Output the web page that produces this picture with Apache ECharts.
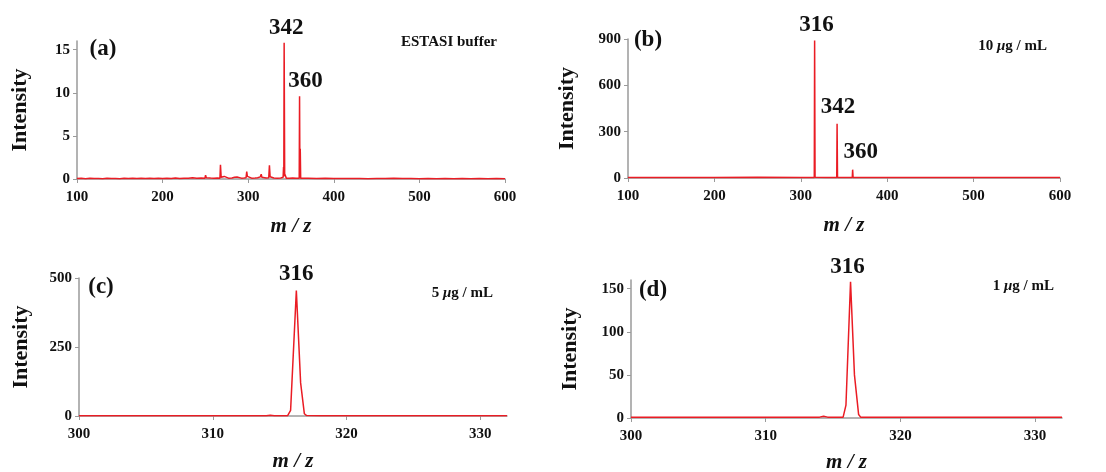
<!DOCTYPE html>
<html>
<head>
<meta charset="utf-8">
<script src="https://cdn.jsdelivr.net/npm/echarts@6/dist/echarts.min.js"></script>
<style>html,body{margin:0;padding:0;background:#fff}#c{width:1106px;height:472px}</style>
</head>
<body>
<div id="c"></div>
<script>
// ---- data (m/z, intensity) ----
var specA = [
[100,0.05],[105,0.08],[110,0.04],[115,0.09],[120,0.05],[125,0.07],[130,0.04],[135,0.1],[140,0.05],[145,0.06],
[150,0.04],[155,0.08],[160,0.05],[165,0.1],[170,0.05],[175,0.09],[180,0.05],[185,0.08],[190,0.06],[195,0.1],
[200,0.05],[205,0.08],[210,0.06],[215,0.12],[220,0.07],[225,0.1],[230,0.08],[235,0.15],[240,0.09],[245,0.12],
[249.5,0.1],[250.2,0.45],[251,0.15],[253,0.1],[256,0.12],[260,0.1],[264,0.12],
[267,0.1],[267.6,1.65],[268.4,0.2],[270,0.15],[272,0.3],[273,0.12],[277,0.1],[281,0.12],
[284,0.2],[285.5,0.28],[287,0.22],[289,0.15],[292,0.1],[295,0.12],
[297.5,0.15],[298.3,0.85],[299,0.3],[300,0.45],[301,0.15],[304,0.1],[308,0.12],[311,0.15],[313,0.3],[314.2,0.25],
[315.2,0.55],[316,0.2],[318,0.15],[321,0.12],
[324,0.15],[324.8,1.6],[325.6,0.25],[327,0.2],[330,0.12],[334,0.1],[338,0.12],
[340.8,0.2],[341.3,1.4],[341.6,0.3],[342,15.8],[342.6,0.6],[343.5,0.5],[344.5,0.1],[348,0.1],[352,0.12],[356,0.1],
[359.6,0.1],[360,9.6],[360.4,0.5],[360.8,3.5],[361.3,0.1],[365,0.08],
[370,0.08],[380,0.06],[390,0.1],[400,0.05],[410,0.07],[420,0.05],[430,0.06],[440,0.04],[450,0.06],[460,0.05],
[470,0.08],[480,0.05],[490,0.06],[500,0.04],[510,0.05],[520,0.04],[530,0.06],[540,0.04],[550,0.05],[560,0.04],
[570,0.05],[580,0.04],[590,0.05],[600,0.04]
];
var specB = [
[100,3],[150,4],[200,3],[250,5],[300,4],[315.6,4],[316,890],[316.5,5],[330,4],
[341.6,4],[342,352],[342.5,4],[359.6,4],[360,54],[360.5,4],[400,3],[450,4],[500,3],[550,3],[600,3]
];
var specC = [
[300,1],[305,1],[310,1],[314,1],[314.3,3],[314.6,1],[315.6,1],[315.72,3],[315.82,20],
[316.25,455],[316.57,120],[316.85,8],[317.0,2],[318,1],[325,1],[332,1]
];
var specD = [
[300,1],[305,1],[310,1],[314,1],[314.3,2],[314.6,1],[315.75,1],[315.88,3],[315.96,15],
[316.3,158],[316.59,50],[316.9,4],[317.05,1],[318,1],[325,1],[332,1]
];
var peaksA = [[342,15.8],[360,9.6]];
var peaksB = [[316,890],[342,352],[360,54]];
var peaksC = [[316.25,455]];
var peaksD = [[316.3,158]];
var panelLetters = ['(a)','(b)','(c)','(d)'];
var conditions = ['ESTASI buffer','10 μg / mL','5 μg / mL','1 μg / mL'];
var yTicksA = [0,5,10,15];
var yTicksD = [0,50,100,150];
var xTicksZoom = [300,310,320,330];

var FONT = 'Liberation Serif';
var RED = '#ea1c24';
var AX = '#9a9a9a';

function xAxis(idx, min, max, opts, gap) {
  var a = {
    type: 'value', gridIndex: idx, min: min, max: max,
    name: 'm / z', nameLocation: 'middle', nameGap: gap,
    nameTextStyle: {fontFamily: FONT, fontSize: 21, fontWeight: 'bold', fontStyle: 'italic', color: '#111'},
    axisLine: {show: true, onZero: false, lineStyle: {color: AX, width: 1.5}},
    axisTick: {show: true, length: 4, lineStyle: {color: AX, width: 1}},
    axisLabel: {fontFamily: FONT, fontSize: 15, fontWeight: 'bold', color: '#111', margin: 11},
    splitLine: {show: false}
  };
  if (opts.interval) a.interval = opts.interval;
  if (opts.ticks) { a.axisLabel.customValues = opts.ticks; a.axisTick.customValues = opts.ticks; }
  return a;
}
function yAxis(idx, max, opts, gap) {
  var a = {
    type: 'value', gridIndex: idx, min: 0, max: max,
    name: 'Intensity', nameLocation: 'middle', nameGap: gap, nameRotate: 90,
    nameTextStyle: {fontFamily: FONT, fontSize: 22, fontWeight: 'bold', color: '#111'},
    axisLine: {show: true, lineStyle: {color: AX, width: 1.5}},
    axisTick: {show: true, length: 4, lineStyle: {color: AX, width: 1}},
    axisLabel: {fontFamily: FONT, fontSize: 15, fontWeight: 'bold', color: '#111', margin: 7},
    splitLine: {show: false}
  };
  if (opts.interval) a.interval = opts.interval;
  if (opts.ticks) { a.axisLabel.customValues = opts.ticks; a.axisTick.customValues = opts.ticks; }
  return a;
}
function mp(peaks, offsets) {
  return {
    symbol: 'circle', symbolSize: 1,
    itemStyle: {color: 'rgba(0,0,0,0)'},
    data: peaks.map(function (p, i) {
      return {coord: [p[0], p[1]], value: String(Math.round(p[0])),
        label: {show: true, position: 'inside', offset: offsets[i], formatter: String(Math.round(p[0])),
          fontFamily: FONT, fontSize: 23, fontWeight: 'bold', color: '#111'}};
    })
  };
}
function line(idx, data, mark) {
  return {type: 'line', xAxisIndex: idx, yAxisIndex: idx, data: data, showSymbol: false, symbol: 'none',
    lineStyle: {color: RED, width: 1.5}, sampling: 'none', silent: true, markPoint: mark, z: 3};
}
function cond(text, right, y) {
  var parts = text.split('μ');
  var rt = parts.length > 1 ? '{n|' + parts[0] + '}{i|μ}{n|' + parts[1] + '}' : '{n|' + text + '}';
  return {type: 'text', right: 1106 - right, top: y - 9,
    style: {text: rt, rich: {
      n: {fontFamily: FONT, fontSize: 15, fontWeight: 'bold', fill: '#111'},
      i: {fontFamily: FONT, fontSize: 15, fontWeight: 'bold', fontStyle: 'italic', fill: '#111'}}}};
}
function letter(t, cx, cy) {
  return {type: 'text', x: cx, y: cy,
    style: {text: t, fontFamily: FONT, fontSize: 23, fontWeight: 'bold', fill: '#111', align: 'center', verticalAlign: 'middle'}};
}
function grid(l, t, w, h) {
  return {left: l, top: t, width: w, height: h, containLabel: false, outerBoundsMode: 'none'};
}

var chart = echarts.init(document.getElementById('c'), null, {renderer: 'canvas'});
chart.setOption({
  animation: false,
  backgroundColor: '#fff',
  grid: [
    grid(77, 41, 428, 138),
    grid(628, 39, 432, 139),
    grid(79, 278, 428, 138),
    grid(631, 280, 431, 138)
  ],
  xAxis: [
    xAxis(0, 100, 600, {interval: 100}, 37),
    xAxis(1, 100, 600, {interval: 100}, 37),
    xAxis(2, 300, 332, {ticks: xTicksZoom}, 35),
    xAxis(3, 300, 332, {ticks: xTicksZoom}, 34)
  ],
  yAxis: [
    yAxis(0, 16, {ticks: yTicksA}, 46),
    yAxis(1, 900, {interval: 300}, 50),
    yAxis(2, 500, {interval: 250}, 47),
    yAxis(3, 160, {ticks: yTicksD}, 50)
  ],
  series: [
    line(0, specA, mp(peaksA, [[2, -15], [6, -15]])),
    line(1, specB, mp(peaksB, [[2, -15], [1, -17], [8, -18]])),
    line(2, specC, mp(peaksC, [[0, -16]])),
    line(3, specD, mp(peaksD, [[-3, -15]]))
  ],
  graphic: [
    letter(panelLetters[0], 103, 49),
    letter(panelLetters[1], 648, 40),
    letter(panelLetters[2], 101, 287),
    letter(panelLetters[3], 653, 290),
    cond(conditions[0], 497, 44),
    cond(conditions[1], 1047, 48),
    cond(conditions[2], 493, 295),
    cond(conditions[3], 1054, 288)
  ]
});
</script>
</body>
</html>
